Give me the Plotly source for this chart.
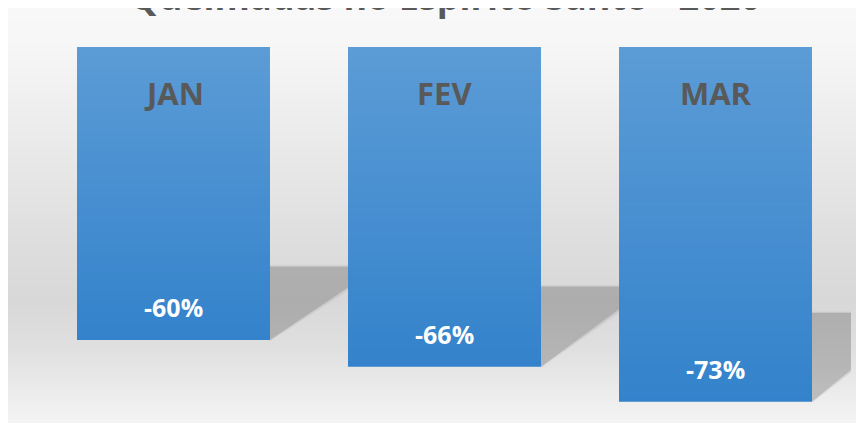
import base64
import struct
import zlib

import plotly.graph_objects as go

# ---------------- data ----------------
categories = ["JAN", "FEV", "MAR"]
values = [-0.602, -0.657, -0.729]
title_text = "Queimadas no Espírito Santo - 2020"

# ---------------- style ----------------
PAGE_OFFSET = 8          # default body margin of the html page
W, H = 864 - PAGE_OFFSET, 433 - 2 * PAGE_OFFSET - 2
ML, MR, MT, MB = 30, 13, 39, 11
BAR_WIDTH = 0.712
TOP_RGB = (92, 156, 214)
BOTTOM_RGB = (51, 130, 203)
N_SEG = 60
BG_STOPS = [(0, 248), (40, 247), (150, 233), (250, 221), (300, 216),
            (350, 224), (400, 238), (441, 248)]
TEXT_GREY = "#595959"
FONT = "Open Sans"


def lerp(a, b, t):
    return a + (b - a) * t


def make_png(width, height, gray_of_row):
    raw = b""
    for r in range(height):
        g = gray_of_row(r)
        raw += b"\x00" + bytes([g, g, g]) * width

    def chunk(tag, data):
        c = struct.pack(">I", len(data)) + tag + data
        return c + struct.pack(">I", zlib.crc32(tag + data) & 0xFFFFFFFF)

    png = b"\x89PNG\r\n\x1a\n"
    png += chunk(b"IHDR", struct.pack(">IIBBBBB", width, height, 8, 2, 0, 0, 0))
    png += chunk(b"IDAT", zlib.compress(raw, 9))
    png += chunk(b"IEND", b"")
    return "data:image/png;base64," + base64.b64encode(png).decode()


def bg_gray(r):
    y = r + PAGE_OFFSET
    for (y0, g0), (y1, g1) in zip(BG_STOPS[:-1], BG_STOPS[1:]):
        if y0 <= y <= y1:
            return int(round(lerp(g0, g1, (y - y0) / max(1, y1 - y0))))
    return BG_STOPS[-1][1]


bg_uri = make_png(16, H, bg_gray)

xs = list(range(len(categories)))
half = BAR_WIDTH / 2
fig = go.Figure()

# ---- shadows (main axes, drawn beneath the bars) ----
for i, v in zip(xs, values):
    x0 = i + half
    top = 0.75 * v
    for grow, op in [(0.04, 0.035), (0.02, 0.05), (0.0, 0.12)]:
        dx = 0.40 + grow
        px = [x0, x0 + dx, x0, x0]
        py = [top + grow * 0.1, top + grow * 0.1, v - grow * 0.06,
              top + grow * 0.1]
        fig.add_trace(go.Scatter(
            x=px, y=py, mode="lines", fill="toself", line=dict(width=0),
            fillcolor=f"rgba(0,0,0,{op})", hoverinfo="skip", showlegend=False,
            xaxis="x", yaxis="y"))

# ---- gradient bars (overlay axes, drawn on top) ----
for j in range(N_SEG):
    t = (j + 0.5) / N_SEG
    rgb = tuple(int(round(lerp(a, b, t))) for a, b in zip(TOP_RGB, BOTTOM_RGB))
    end = min(j + 1.6, N_SEG)
    fig.add_trace(go.Bar(
        x=xs,
        base=[v * j / N_SEG for v in values],
        y=[v * (end - j) / N_SEG for v in values],
        width=BAR_WIDTH,
        marker=dict(color="rgb(%d,%d,%d)" % rgb, line=dict(width=0)),
        hoverinfo="skip", showlegend=False,
        xaxis="x2", yaxis="y2"))

annotations = []
for i, (cat, v) in enumerate(zip(categories, values)):
    annotations.append(dict(
        x=i, y=0, xref="x2", yref="y2", text=cat, showarrow=False,
        yanchor="middle", yshift=-46,
        font=dict(family=FONT, size=31, color=TEXT_GREY, weight="bold")))
    annotations.append(dict(
        x=i, y=v, xref="x2", yref="y2", text=f"{v:.0%}", showarrow=False,
        yanchor="middle", yshift=33,
        font=dict(family=FONT, size=25, color="white", weight="bold")))

plot_h = H - MT - MB
plot_w = W - ML - MR
annotations.append(dict(
    x=(445 - PAGE_OFFSET - ML) / plot_w, y=1 + (MT + 11) / plot_h,
    xref="paper", yref="paper",
    text=title_text, showarrow=False, yanchor="middle",
    font=dict(family=FONT, size=36, color=TEXT_GREY, weight="bold")))

axis_x = dict(range=[-0.5, len(categories) - 0.5], visible=False,
              showgrid=False, zeroline=False, fixedrange=True)
axis_y = dict(range=[-0.75, 0], visible=False, showgrid=False,
              zeroline=False, fixedrange=True)

fig.update_layout(
    width=W, height=H,
    margin=dict(l=ML, r=MR, t=MT, b=MB, pad=0),
    paper_bgcolor="#f2f2f2",
    plot_bgcolor="rgba(0,0,0,0)",
    barmode="overlay",
    showlegend=False,
    xaxis=axis_x,
    yaxis=axis_y,
    xaxis2=dict(axis_x, overlaying="x"),
    yaxis2=dict(axis_y, overlaying="y"),
    annotations=annotations,
    images=[dict(
        source=bg_uri, xref="paper", yref="paper",
        x=-ML / plot_w, y=1 + MT / plot_h,
        sizex=W / plot_w, sizey=H / plot_h,
        sizing="stretch", xanchor="left", yanchor="top", layer="below")],
)

fig.write_html("out.html")
